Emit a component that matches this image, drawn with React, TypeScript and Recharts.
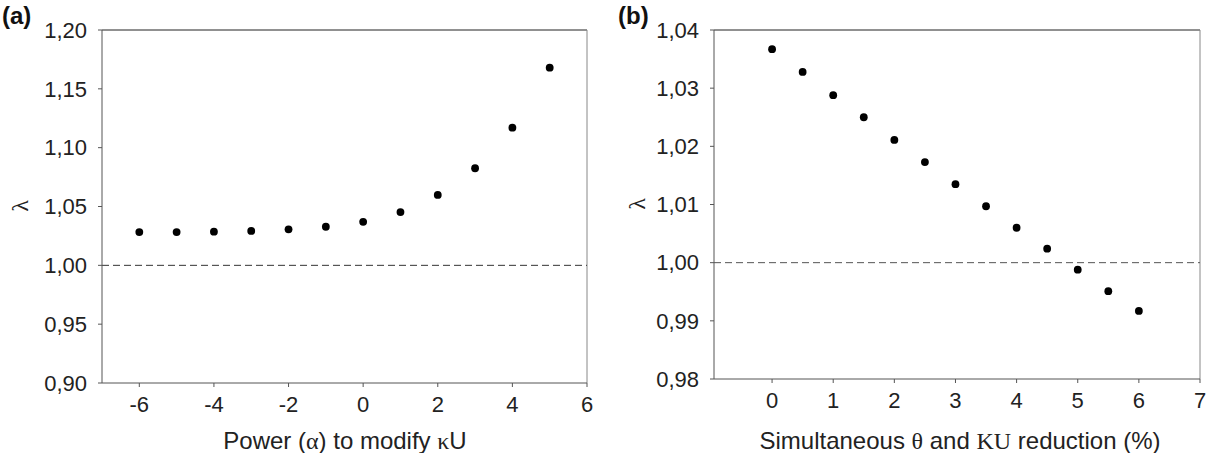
import { ScatterChart, Scatter, XAxis, YAxis, ReferenceLine, Label } from "recharts";

// (a) lambda vs power alpha used to modify kU
const powerAlpha = [-6, -5, -4, -3, -2, -1, 0, 1, 2, 3, 4, 5];
const lambdaByPower = [1.0283, 1.0283, 1.0286, 1.0292, 1.0306, 1.0328, 1.037, 1.0453, 1.0598, 1.0825, 1.117, 1.168];
const ticksAX = [-6, -4, -2, 0, 2, 4, 6];
const ticksAY = [0.9, 0.95, 1.0, 1.05, 1.1, 1.15, 1.2];

// (b) lambda vs simultaneous theta and KU reduction (%)
const reductionPct = [0, 0.5, 1, 1.5, 2, 2.5, 3, 3.5, 4, 4.5, 5, 5.5, 6];
const lambdaByReduction = [1.0367, 1.0328, 1.0288, 1.025, 1.0211, 1.0173, 1.0135, 1.0097, 1.006, 1.0024, 0.9988, 0.9951, 0.9917];
const ticksBX = [0, 1, 2, 3, 4, 5, 6, 7];
const ticksBY = [0.98, 0.99, 1.0, 1.01, 1.02, 1.03, 1.04];

const FONT = "'Liberation Sans', Arial, sans-serif";
const SERIF = "'Liberation Serif', 'Times New Roman', serif";
const tickStyle = { fill: "#222", fontSize: 22, fontFamily: FONT };
const AXIS = "#555";

const comma = (v: number) => v.toFixed(2).replace(".", ",");
const dot = (p: any) => <circle cx={p.cx} cy={p.cy} r={3.9} fill="#000" />;

const dataA = powerAlpha.map((x, i) => ({ x, y: lambdaByPower[i] }));
const dataB = reductionPct.map((x, i) => ({ x, y: lambdaByReduction[i] }));

const lambdaLabel = (cx: number, cy: number) => () => (
  <text
    x={cx}
    y={cy}
    transform={`rotate(-90, ${cx}, ${cy})`}
    textAnchor="middle"
    dominantBaseline="central"
    fontSize={24}
    fontFamily={SERIF}
    fill="#222"
  >
    λ
  </text>
);

const panelTag = (left: number, text: string) => (
  <div
    style={{
      position: "absolute",
      left,
      top: 4,
      fontFamily: FONT,
      fontWeight: "bold",
      fontSize: 24,
      lineHeight: "24px",
      color: "#111",
    }}
  >
    {text}
  </div>
);

export default function App() {
  return (
    <div style={{ position: "absolute", left: 0, top: 0, width: 1211, height: 453, background: "#fff" }}>
      <div style={{ position: "absolute", left: 0, top: 0 }}>
        <ScatterChart width={600} height={453} margin={{ top: 30, right: 13, bottom: 0, left: 0 }}>
          <XAxis
            type="number"
            dataKey="x"
            domain={[-7, 6]}
            ticks={ticksAX}
            interval={0}
            height={70}
            tick={tickStyle}
            tickSize={4}
            tickMargin={9}
            stroke={AXIS}
          >
            <Label
              content={() => (
                <text x={345} y={449} textAnchor="middle" fontSize={24} fontFamily={FONT} fill="#222">
                  Power (<tspan fontFamily={SERIF}>α</tspan>) to modify <tspan fontFamily={SERIF}>κ</tspan>U
                </text>
              )}
            />
          </XAxis>
          <YAxis
            type="number"
            dataKey="y"
            domain={[0.9, 1.2]}
            ticks={ticksAY}
            interval={0}
            width={102}
            tick={tickStyle}
            tickSize={4}
            tickMargin={11}
            tickFormatter={comma}
            stroke={AXIS}
          >
            <Label content={lambdaLabel(20, 206)} />
          </YAxis>
          <ReferenceLine y={1.2} stroke="#222" />
          <ReferenceLine x={6} stroke="#888" />
          <ReferenceLine y={1.0} stroke="#333" strokeDasharray="7 4" />
          <Scatter data={dataA} shape={dot} isAnimationActive={false} />
        </ScatterChart>
      </div>
      {panelTag(2, "(a)")}

      <div style={{ position: "absolute", left: 600, top: 0 }}>
        <ScatterChart width={611} height={453} margin={{ top: 30, right: 11, bottom: 0, left: 0 }}>
          <XAxis
            type="number"
            dataKey="x"
            domain={[-0.95, 7]}
            ticks={ticksBX}
            interval={0}
            height={74}
            tick={tickStyle}
            tickSize={4}
            tickMargin={9}
            stroke={AXIS}
          >
            <Label
              content={() => (
                <text x={360} y={449} textAnchor="middle" fontSize={24} fontFamily={FONT} fill="#222">
                  Simultaneous <tspan fontFamily={SERIF}>θ</tspan> and <tspan fontFamily={SERIF}>KU</tspan> reduction (%)
                </text>
              )}
            />
          </XAxis>
          <YAxis
            type="number"
            dataKey="y"
            domain={[0.98, 1.04]}
            ticks={ticksBY}
            interval={0}
            width={114}
            tick={tickStyle}
            tickSize={4}
            tickMargin={11}
            tickFormatter={comma}
            stroke={AXIS}
          >
            <Label content={lambdaLabel(37, 204)} />
          </YAxis>
          <ReferenceLine y={1.04} stroke="#222" />
          <ReferenceLine x={7} stroke="#888" />
          <ReferenceLine y={1.0} stroke="#555" strokeDasharray="7 4" />
          <Scatter data={dataB} shape={dot} isAnimationActive={false} />
        </ScatterChart>
      </div>
      {panelTag(618, "(b)")}
    </div>
  );
}
